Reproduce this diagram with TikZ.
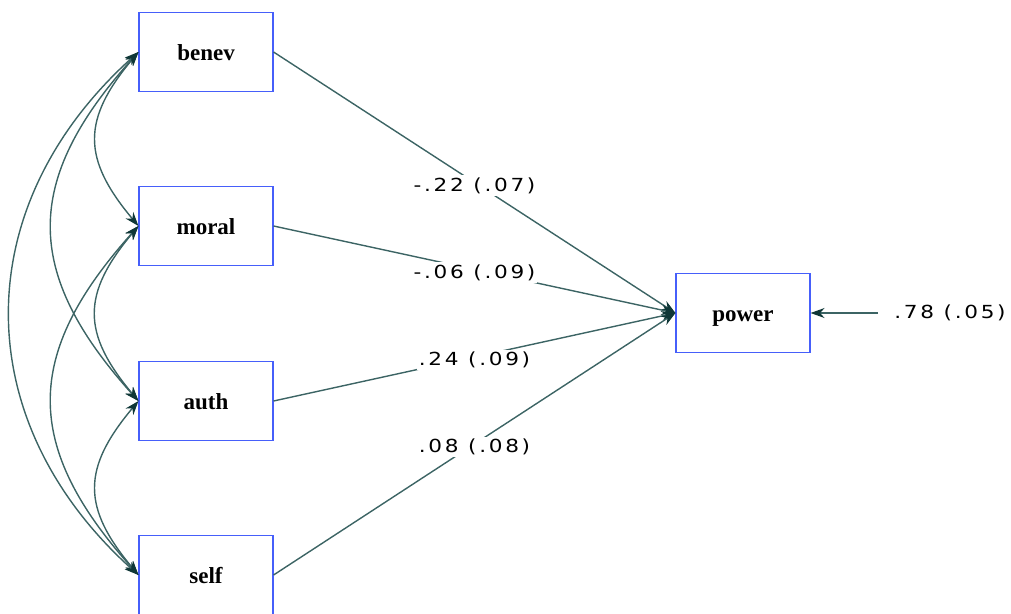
\documentclass[tikz,border=0pt]{standalone}
\usepackage{fontspec}
\setmainfont{Liberation Serif}
\newfontfamily\estfont[LetterSpace=15, FakeStretch=1.2]{DejaVu Sans}
\usetikzlibrary{arrows.meta}
\definecolor{boxblue}{RGB}{70,95,250}
\definecolor{pathgray}{RGB}{60,100,100}
\definecolor{tipgray}{RGB}{15,55,55}

\begin{document}
\begin{tikzpicture}[x=1pt, y=-1pt,
  var/.style={draw=boxblue, line width=1.1pt, minimum width=134pt, minimum height=79pt,
    text height=16pt, text depth=0pt, font=\fontsize{23}{26}\selectfont\bfseries},
  est/.style={fill=white, inner sep=2pt, yshift=-3pt, font=\estfont\fontsize{18}{21}\selectfont},
  tip/.style={draw=pathgray, line width=1.4pt, -{Stealth[length=14pt, width=10pt, color=tipgray]}},
  cov/.style={draw=pathgray, line width=1.4pt,
    {Stealth[length=14pt, width=10pt, color=tipgray]}-{Stealth[length=14pt, width=10pt, color=tipgray]}}]
  \useasboundingbox (0,0) rectangle (1011,613);

  % observed variables
  \node[var] (benev) at (206,52)  {benev};
  \node[var] (moral) at (206,226) {moral};
  \node[var] (auth)  at (206,401) {auth};
  \node[var] (self)  at (206,575) {self};
  \node[var] (power) at (743,313) {power};
  \node[est, yshift=3pt] (err) at (950,313) {.78 (.05)};
  \coordinate (errtail) at (878,313);

  % regressions
  \path[every edge/.style={tip}]
  (benev.east) edge node[est] {-.22 (.07)} (power.west)
  (moral.east) edge node[est] {-.06 (.09)} (power.west)
  (auth.east)  edge node[est] {.24 (.09)}  (power.west)
  (self.east)  edge node[est] {.08 (.08)}  (power.west)
  (errtail)    edge (power.east);

  % covariances
  \path[every edge/.style={cov}]
  (benev.west) edge[out=230, in=130, looseness=1.3] (moral.west)
  (moral.west) edge[out=230, in=130, looseness=1.3] (auth.west)
  (auth.west)  edge[out=230, in=130, looseness=1.3] (self.west)
  (benev.west) edge[out=228, in=132, looseness=1.27] (auth.west)
  (moral.west) edge[out=228, in=132, looseness=1.27] (self.west)
  (benev.west) edge[out=222, in=138, looseness=1.13] (self.west);
\end{tikzpicture}
\end{document}
